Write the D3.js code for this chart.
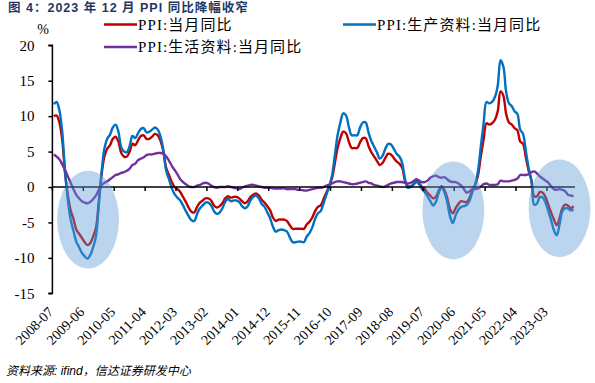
<!DOCTYPE html>
<html><head><meta charset="utf-8">
<script src="https://cdn.jsdelivr.net/npm/d3@7"></script>
<style>
html,body{margin:0;padding:0;background:#fff;}
svg{display:block;}
</style></head>
<body>
<svg id="c" width="595" height="383"></svg>
<script>
// ---------- data ----------
const years = d3.range(2008, 2024);
const months = [];
years.forEach(y => { for (let m = 1; m <= 12; m++) { if (y === 2008 && m < 7) continue; months.push(y + "-" + String(m).padStart(2, "0")); } });

const tickLabels = ["2008-07","2009-06","2010-05","2011-04","2012-03","2013-02","2014-01","2014-12","2015-11","2016-10","2017-09","2018-08","2019-07","2020-06","2021-05","2022-04","2023-03"];
const yTicks = [20,15,10,5,0,-5,-10,-15];

const seriesNames = ["PPI:当月同比","PPI:生产资料:当月同比","PPI:生活资料:当月同比"];

const ppi = [
 10.0,10.1,9.1,6.6,2.0,-1.1,
 -3.3,-4.5,-6.0,-6.6,-7.2,-7.8,-8.2,-7.9,-7.0,-5.8,-2.1,1.7,
 4.3,5.4,5.9,6.8,7.1,6.4,4.8,4.3,4.3,5.0,6.1,5.9,
 6.6,7.2,7.3,6.8,6.8,7.1,7.5,7.3,6.5,5.0,2.7,1.7,
 0.7,0.0,-0.3,-0.7,-1.4,-2.1,-2.9,-3.5,-3.6,-2.8,-2.2,-1.9,
 -1.6,-1.6,-1.9,-2.6,-2.9,-2.7,-2.3,-1.6,-1.3,-1.5,-1.4,-1.4,
 -1.6,-2.0,-2.3,-2.0,-1.4,-1.1,-0.9,-1.2,-1.8,-2.2,-2.7,-3.3,
 -4.3,-4.8,-4.6,-4.6,-4.6,-4.8,-5.4,-5.9,-5.9,-5.9,-5.9,-5.9,
 -5.3,-4.9,-4.3,-3.4,-2.8,-2.6,-1.7,-0.8,0.1,1.2,3.3,5.5,
 6.9,7.8,7.6,6.4,5.5,5.5,5.5,6.3,6.9,6.9,5.8,4.9,
 4.3,3.7,3.1,3.4,4.1,4.7,4.6,4.1,3.6,3.3,2.7,0.9,
 0.1,0.1,0.4,0.9,0.6,0.0,-0.3,-0.8,-1.2,-1.6,-1.4,-0.5,
 0.1,-0.4,-1.5,-3.1,-3.7,-3.0,-2.4,-2.0,-2.1,-2.1,-1.5,-0.4,
 0.3,1.7,4.4,6.8,9.0,8.8,9.0,9.5,10.7,13.5,12.9,10.3,
 9.1,8.8,8.3,8.0,6.4,6.1,4.2,2.3,0.9,-1.3,-1.3,-0.7,
 -0.8,-1.4,-2.5,-3.6,-4.6,-5.4,-4.4,-3.0,-2.5,-2.6,-3.0,-2.7
];
const producer = [
 11.7,12.0,10.8,7.8,2.2,-1.8,
 -4.6,-6.2,-7.7,-8.5,-9.3,-9.8,-10.1,-9.6,-8.5,-7.0,-2.6,2.1,
 5.4,6.8,7.4,8.4,8.8,7.8,5.6,5.0,4.9,5.8,7.2,6.9,
 7.6,8.2,8.3,7.7,7.8,8.1,8.4,8.1,7.1,5.2,2.3,1.1,
 -0.2,-1.0,-1.5,-1.9,-2.6,-3.4,-4.1,-4.7,-4.8,-3.8,-3.0,-2.6,
 -2.2,-2.2,-2.6,-3.4,-3.8,-3.6,-3.0,-2.1,-1.7,-2.0,-1.9,-1.9,
 -2.1,-2.7,-3.0,-2.7,-1.9,-1.4,-1.2,-1.6,-2.4,-2.8,-3.6,-4.4,
 -5.6,-6.3,-6.1,-6.0,-6.1,-6.3,-7.1,-7.8,-7.8,-7.7,-7.7,-7.8,
 -7.0,-6.5,-5.7,-4.5,-3.7,-3.4,-2.3,-1.1,0.1,1.6,4.4,7.3,
 9.1,10.4,10.1,8.5,7.3,7.3,7.3,8.4,9.1,9.1,7.7,6.5,
 5.7,4.9,4.0,4.4,5.4,6.1,6.0,5.4,4.7,4.3,3.4,1.1,
 -0.1,0.0,0.3,0.7,0.4,-0.3,-0.7,-1.3,-2.0,-2.6,-2.1,-0.8,
 -0.1,-0.7,-2.1,-4.1,-5.1,-4.0,-3.2,-2.8,-2.7,-2.5,-1.9,-0.7,
 0.4,2.3,5.8,9.1,12.0,11.8,12.0,12.7,14.3,17.9,17.0,13.4,
 11.8,11.4,10.7,10.3,8.1,7.5,5.1,2.7,0.9,-2.5,-2.3,-1.4,
 -1.5,-2.2,-3.4,-4.7,-6.1,-6.8,-5.3,-3.4,-3.0,-3.0,-3.3,-3.2
];
const consumer = [
 4.6,4.3,3.9,3.2,2.4,1.5,
 0.6,-0.3,-1.1,-1.6,-2.0,-2.2,-2.3,-2.1,-1.7,-1.2,-0.4,0.3,
 0.6,0.8,1.1,1.4,1.7,1.8,2.0,2.1,2.3,2.6,3.1,3.3,
 3.8,4.0,4.2,4.5,4.6,4.6,4.7,4.8,4.8,4.7,4.3,3.7,
 3.0,2.4,1.8,1.1,0.7,0.4,0.1,0.0,0.0,0.2,0.3,0.5,
 0.6,0.5,0.2,0.0,-0.1,0.0,0.0,0.0,0.1,0.0,-0.1,-0.2,
 -0.3,-0.1,0.1,0.2,0.3,0.3,0.2,0.1,0.0,-0.1,-0.1,-0.1,
 -0.2,-0.2,-0.2,-0.2,-0.2,-0.3,-0.3,-0.3,-0.3,-0.4,-0.4,-0.5,
 -0.5,-0.4,-0.3,-0.2,-0.1,-0.1,0.0,0.2,0.3,0.5,0.7,0.8,
 0.8,0.7,0.6,0.5,0.4,0.4,0.5,0.6,0.7,0.8,0.6,0.5,
 0.3,0.2,0.1,0.0,0.1,0.3,0.5,0.6,0.7,0.7,0.7,0.6,
 0.5,0.6,0.8,1.1,0.9,0.7,0.7,0.9,1.3,1.5,1.6,1.4,
 1.3,1.4,1.1,0.8,0.7,0.7,0.5,0.2,-0.3,-0.8,-0.6,-0.3,
 -0.3,-0.2,0.1,0.4,0.5,0.3,0.3,0.3,0.4,0.9,0.8,0.8,
 0.8,0.9,1.0,1.2,1.7,1.7,1.7,1.8,2.1,2.2,1.9,1.5,
 1.2,0.9,0.6,0.1,-0.3,-0.4,-0.3,-0.4,-0.6,-1.1,-1.2,-1.3
];
// highlighted episodes: centre month index, centre value, half-width (months), half-height (%)
const highlightCenterIdx = [12.2, 142.2, 180.0];
const highlightCenterVal = [-4.6, -3.3, -3.0];
const highlightHalfMonths = [11.0, 11.0, 11.0];
const highlightHalfPct = [6.9, 6.9, 6.9];

// ---------- layout ----------
const svg = d3.select("#c");
const X0 = 52.4, X1 = 575, YT = 45.3, YB = 293.3;
const colors = ["#C00000", "#0070C0", "#7030A0"];
const serif = "Liberation Serif, Noto Sans CJK SC, serif";

const xIdx = d3.scaleLinear().domain([0, months.length]).range([X0, X1]);
const x = d => xIdx(months.indexOf(d) + 0.5);
const y = d3.scaleLinear().domain([-15, 20]).range([YB, YT]);

// title
svg.append("text").attr("x", 8).attr("y", 11.5)
  .attr("font-family", "Liberation Sans, Noto Sans CJK SC, sans-serif")
  .attr("font-size", 12.5).attr("font-weight", "bold").attr("fill", "#1F3864")
  .attr("letter-spacing", 1)
  .text("图 4：2023 年 12 月 PPI 同比降幅收窄");

// unit
svg.append("text").attr("x", 43).attr("y", 34).attr("text-anchor", "middle")
  .attr("font-family", serif).attr("font-size", 14).text("%");

// series
const all = [ppi, producer, consumer];
const line = d3.line().x((d, i) => xIdx(i + 0.5)).y(d => y(d)).curve(d3.curveCatmullRom.alpha(0.5));
all.forEach((s, k) => {
  svg.append("path").datum(s).attr("d", line).attr("fill", "none")
    .attr("stroke", colors[k]).attr("stroke-width", 2.4).attr("stroke-linejoin", "round");
});

// axes
const yAxis = d3.axisLeft(y).tickValues(yTicks).tickSize(4).tickPadding(14).tickFormat(d3.format("d"));
const gy = svg.append("g").attr("transform", `translate(${X0},0)`).call(yAxis);
gy.attr("font-family", serif);
gy.select(".domain").attr("stroke", "#000").attr("stroke-width", 1.5).attr("d", `M-4,${YT}H0V${YB}H-4`);
gy.selectAll(".tick line").attr("stroke", "#000").attr("stroke-width", 1.5);
gy.selectAll(".tick text").attr("font-family", serif).attr("font-size", 15).attr("fill", "#000")
  .text(d => d < 0 ? "-" + Math.abs(d) : d);

const xTickPos = d3.range(0, months.length, 11);
const gx = svg.append("g").attr("transform", `translate(0,${y(0)})`);
gx.append("line").attr("x1", X0).attr("x2", X1).attr("stroke", "#000").attr("stroke-width", 1.5);
gx.selectAll("line.t").data(xTickPos).join("line").attr("class", "t")
  .attr("x1", d => xIdx(d)).attr("x2", d => xIdx(d)).attr("y1", 0).attr("y2", 4)
  .attr("stroke", "#000").attr("stroke-width", 1.5);

svg.append("g").attr("font-family", serif).selectAll("text").data(tickLabels).join("text")
  .attr("transform", d => `translate(${x(d) - 3},${YB + 16}) rotate(-45)`)
  .attr("text-anchor", "end").attr("dy", "0.35em")
  .attr("font-family", serif).attr("font-size", 14).text(d => d);

// highlight ellipses (on top, translucent)
svg.append("g").selectAll("ellipse").data(highlightCenterIdx).join("ellipse")
  .attr("cx", (d) => xIdx(d + 0.5))
  .attr("cy", (d, i) => y(highlightCenterVal[i]))
  .attr("rx", (d, i) => xIdx(highlightHalfMonths[i]) - xIdx(0))
  .attr("ry", (d, i) => y(0) - y(highlightHalfPct[i]))
  .attr("fill", "#5B9BD5").attr("fill-opacity", 0.42);

// legend
const legendPos = [[104, 24.5], [343, 24.5], [104, 47]];
legendPos.forEach((p, k) => {
  svg.append("line").attr("x1", p[0]).attr("x2", p[0] + 33).attr("y1", p[1]).attr("y2", p[1])
    .attr("stroke", colors[k]).attr("stroke-width", 2.4);
  svg.append("text").attr("x", p[0] + 34).attr("y", p[1] + 5)
    .attr("font-family", serif).attr("font-size", 15).attr("letter-spacing", 1.1).text(seriesNames[k]);
});

// source
svg.append("text").attr("x", 6).attr("y", 375)
  .attr("font-family", "Liberation Sans, Noto Sans CJK SC, sans-serif")
  .attr("font-size", 12).attr("font-style", "italic").attr("fill", "#000")
  .text("资料来源: ifind，信达证券研发中心");
</script>
</body></html>
